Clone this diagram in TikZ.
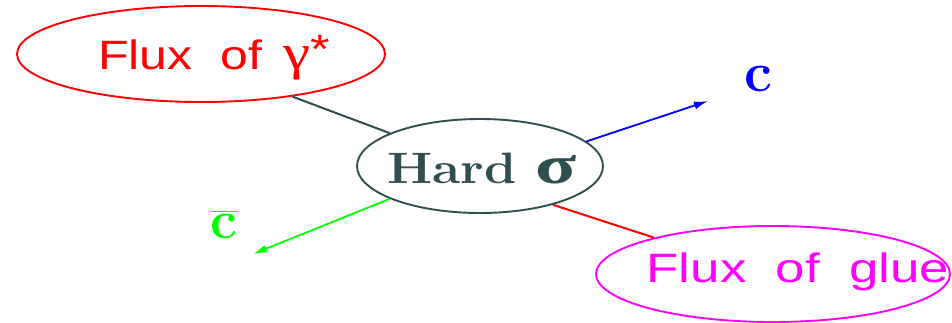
\RequirePackage{fix-cm}
\documentclass[tikz,border=0pt]{standalone}
\usepackage{fontspec}
\usepackage{amsmath}
\usepackage{graphicx}
\newfontfamily\lsans{Liberation Sans}
\newfontfamily\lserif{Liberation Serif}
\usetikzlibrary{shapes.geometric,arrows.meta}
\definecolor{dslate}{HTML}{2F4F4F}
\definecolor{vgreen}{HTML}{00FF00}
\definecolor{vmag}{HTML}{FF00FF}
\newcommand\widetxt[2]{\scalebox{#1}[1]{#2}}
\begin{document}
\begin{tikzpicture}[x=1pt,y=-1pt,
  blob/.style={ellipse,draw,line width=1.9pt,inner sep=0pt},
  fluxtext/.style={font=\lsans\fontsize{41}{44}\selectfont,inner sep=0pt},
  conn/.style={line width=2pt},
  arr/.style={line width=1.8pt,-{Latex[length=14pt,width=8pt]}}]
\useasboundingbox (0,0) rectangle (952,322);
\node[blob,red,minimum width=368pt,minimum height=96pt] (fg) at (201,54) {};
\node[fluxtext,red,anchor=base west] (fgt) at (98,69) {\widetxt{1.22}{Flux\ \ of\hspace{0.42em}{\lserif\fontsize{50}{52}\selectfont γ}\raisebox{6pt}{*}}};
\node[blob,dslate,minimum width=246pt,minimum height=94pt] (hard) at (480,166) {};
\node[dslate,inner sep=0pt,font=\fontsize{44}{48}\selectfont\bfseries,anchor=base west] (hardt) at (387,183) {\widetxt{1.17}{Hard \scalebox{1.2}[1]{\lserif\bfseries\fontsize{54}{56}\selectfont σ}}};
\node[blob,vmag,minimum width=354pt,minimum height=96pt] (glue) at (773,274) {};
\node[fluxtext,vmag] (gluet) at (798,272) {\widetxt{1.29}{Flux\ \ of\ \ glue}};
\coordinate (cend) at (708,101);
\coordinate (cbend) at (253,254);
\node[blue,font=\fontsize{56}{58}\selectfont\bfseries] (c) at (758,79) {c};
\node[vgreen,font=\fontsize{54}{56}\selectfont\boldmath] (cb) at (224,224) {$\overline{\mathbf{c}}$};
\draw[conn,dslate] (fg.-25.6) -- (hard.160.5);
\draw[conn,red] (hard.-28.7) -- (glue.163.7);
\draw[arr,blue] (hard.13.7) -- (cend);
\draw[arr,vgreen] (hard.200.9) -- (cbend);
\end{tikzpicture}
\end{document}
